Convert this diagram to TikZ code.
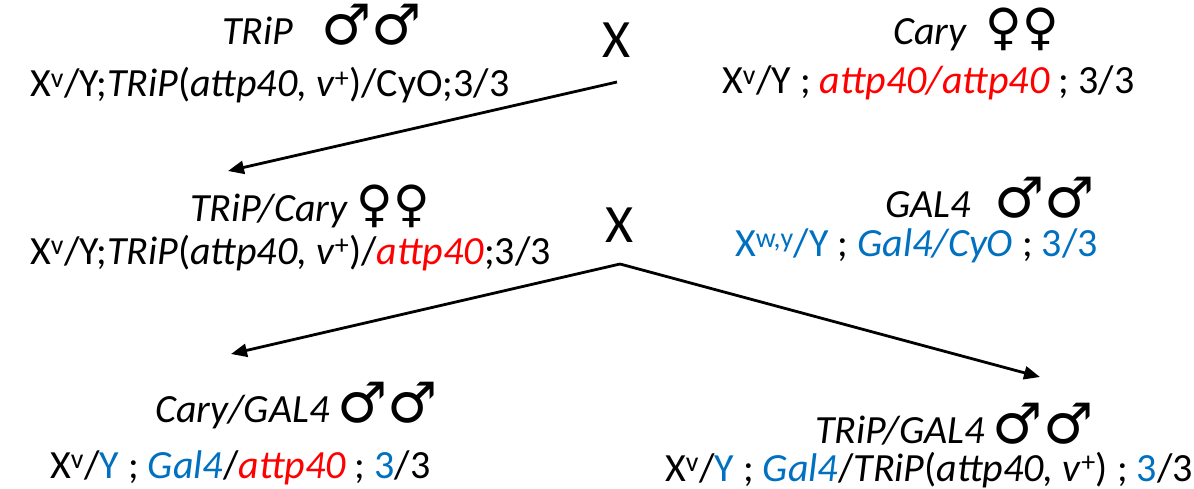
\documentclass[tikz,border=0pt]{standalone}
\usepackage{fontspec}
\setmainfont{Carlito}
\newfontfamily\symfont{DejaVu Sans}
\usetikzlibrary{arrows.meta}
\definecolor{gred}{HTML}{FF0000}
\definecolor{gblue}{HTML}{0070C0}
% sex symbols and small helpers
\newcommand\msym{{\symfont\fontsize{56}{56}\selectfont ♂}}
\newcommand\fsym{{\symfont\fontsize{50}{50}\selectfont ♀}}
\newcommand\sups[1]{\textsuperscript{#1}}
\newcommand\red[1]{\textcolor{gred}{#1}}
\newcommand\blue[1]{\textcolor{gblue}{#1}}
\begin{document}
\begin{tikzpicture}[x=1pt,y=-1pt,
  geno/.style={anchor=base west,inner sep=0pt,font=\fontsize{40}{48}\selectfont},
  title/.style={anchor=base west,inner sep=0pt,font=\fontsize{40}{48}\selectfont},
  cross/.style={inner sep=0pt,font=\fontsize{54}{60}\selectfont},
  link/.style={line width=2.8pt,line join=miter,-{Triangle[length=16pt,width=13pt]}}]
\useasboundingbox (0,0) rectangle (1194,489);

% parental cross
\node[title] (t1) at (222,45) {\textit{TRiP}\hspace{0.7em}\msym\msym};
\node[geno] (g1) at (30,97) {X\sups{v}/Y;\textit{TRiP}(\textit{attp40, v}\sups{+})/CyO;3/3};
\node[cross] (x1) at (617,40) {X};
\node[title] (t2) at (893,45) {\textit{Cary}\hspace{0.45em}\fsym\fsym};
\node[geno] (g2) at (722,94) {X\sups{v}/Y ; \red{\textit{attp40/attp40}} ; 3/3};

% F1 cross
\node[title] (t3) at (190,222) {\textit{TRiP/Cary}\hspace{0.2em}\fsym\fsym};
\node[geno] (g3) at (30,264) {X\sups{v}/Y;\textit{TRiP}(\textit{attp40, v}\sups{+})/\red{\textit{attp40}};3/3};
\node[cross] (x2) at (620,225) {X};
\node[title] (t4) at (885,218) {\textit{GAL4}\hspace{0.6em}\msym\msym};
\node[geno] (g4) at (735,257) {\blue{X\sups{w,y}/Y} ; \blue{\textit{Gal4/CyO}} ; \blue{3/3}};

% progeny
\node[title] (t5) at (155,422) {\textit{Cary/GAL4}\hspace{0.2em}\msym\msym};
\node[geno] (g5) at (50,478) {X\sups{v}/\blue{Y} ; \blue{\textit{Gal4}}/\red{\textit{attp40}} ; \blue{3}/3};
\node[title] (t6) at (815,443) {\textit{TRiP/GAL4}\hspace{0.2em}\msym\msym};
\node[geno] (g6) at (665,481) {X\sups{v}/\blue{Y} ; \blue{\textit{Gal4}}/\textit{TRiP}(\textit{attp40, v}\sups{+}) ; \blue{3}/3};

% connector ends
\coordinate (s1) at (617,82);
\coordinate (e1) at (228,171);
\coordinate (s2) at (620,264);
\coordinate (e2) at (231,354);
\coordinate (e3) at (1040,377);

\draw[link] (s1) -- (e1);
\draw[link] (s2) -- (e2);
\draw[link] (s2) -- (e3);
\end{tikzpicture}
\end{document}
